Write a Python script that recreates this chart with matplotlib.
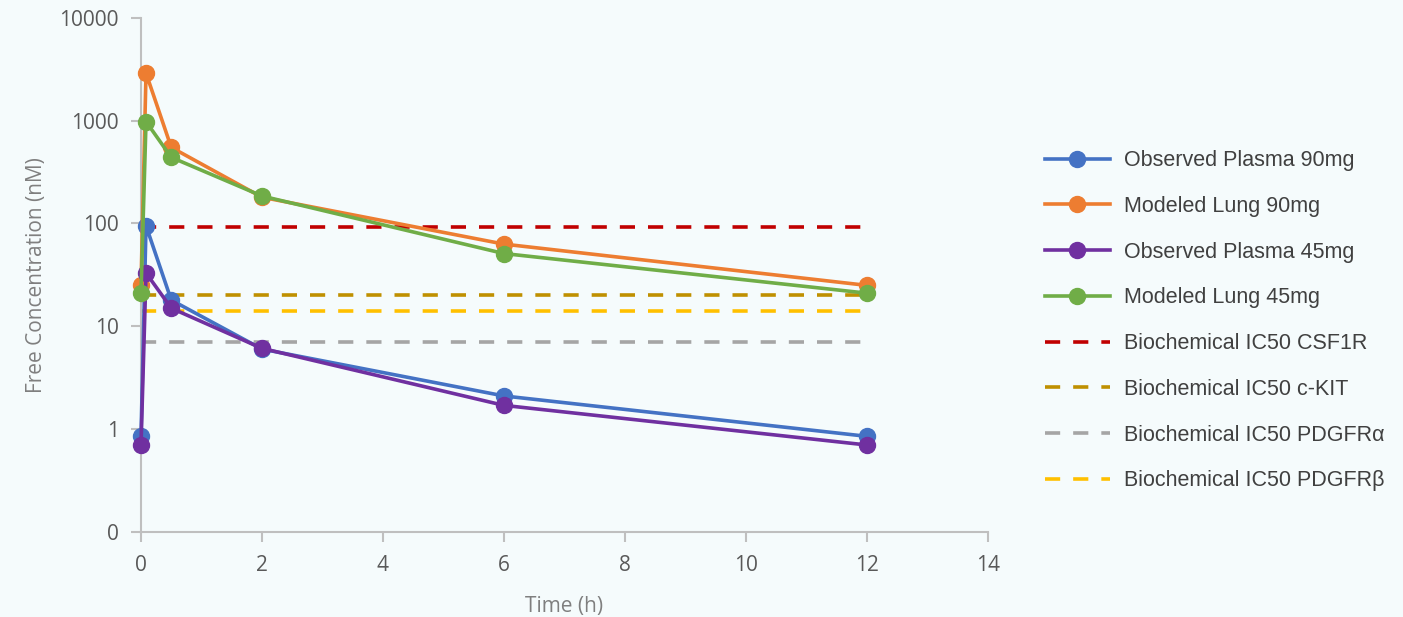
import matplotlib
matplotlib.use('Agg')
import matplotlib.pyplot as plt
from matplotlib.ticker import FixedLocator, FixedFormatter

# sampling times (h)
time_h = [0, 0.083, 0.5, 2, 6, 12]

plasma_90 = [0.85, 95, 18, 6.0, 2.1, 0.85]
lung_90 = [25, 2900, 550, 180, 63, 25]
plasma_45 = [0.7, 33, 15, 6.1, 1.7, 0.7]
lung_45 = [21, 980, 440, 185, 51, 21]

ic50_names = ['Biochemical IC50 CSF1R', 'Biochemical IC50 c-KIT',
              'Biochemical IC50 PDGFR\u03b1', 'Biochemical IC50 PDGFR\u03b2']
ic50_values = [92, 20, 7, 14]
ic50_span = [0, 12]

y_ticks = [0.1, 1, 10, 100, 1000, 10000]
y_tick_labels = ['0', '1', '10', '100', '1000', '10000']
x_ticks = [0, 2, 4, 6, 8, 10, 12, 14]

bg = '#F5FBFC'
plt.rcParams['font.family'] = ['Open Sans', 'DejaVu Sans']

fig = plt.figure(figsize=(14.03, 6.17), dpi=100, facecolor=bg)
ax = fig.add_axes([0.1005, 0.138, 0.6035, 0.833])
ax.set_facecolor(bg)

series = [
    ('Observed Plasma 90mg', plasma_90, '#4472C4'),
    ('Modeled Lung 90mg', lung_90, '#ED7D31'),
    ('Observed Plasma 45mg', plasma_45, '#7030A0'),
    ('Modeled Lung 45mg', lung_45, '#70AD47'),
]
for name, vals, col in series:
    ax.plot(time_h, vals, color=col, lw=2.6, marker='o', ms=11.5, label=name,
            clip_on=False, zorder=3)

ic50_colors = ['#C00000', '#BF9000', '#A5A5A5', '#FFC000']
for name, val, col in zip(ic50_names, ic50_values, ic50_colors):
    ax.plot(ic50_span, [val, val], color=col, lw=2.6, ls=(0, (4.2, 3.6)), label=name,
            zorder=2)

ax.set_yscale('log')
ax.set_ylim(0.1, 10000)
ax.set_xlim(0, 14)
ax.yaxis.set_major_locator(FixedLocator(y_ticks))
ax.yaxis.set_major_formatter(FixedFormatter(y_tick_labels))
ax.yaxis.set_minor_locator(FixedLocator([]))
ax.set_xticks(x_ticks)

for s in ['top', 'right']:
    ax.spines[s].set_visible(False)
for s in ['left', 'bottom']:
    ax.spines[s].set_color('#BFBFBF')
    ax.spines[s].set_linewidth(1.5)
ax.tick_params(colors='#BFBFBF', labelcolor='#595959', labelsize=15, width=1.5, length=7)
ax.tick_params(axis='y', pad=9)
ax.tick_params(axis='x', pad=10)

ax.set_xlabel('Time (h)', fontsize=15, color='#7F7F7F', labelpad=14)
ax.set_ylabel('Free Concentration (nM)', fontsize=15, color='#7F7F7F', labelpad=9)

leg = fig.legend(loc='center left', bbox_to_anchor=(0.731, 0.48), frameon=False,
                 labelspacing=1.15, handlelength=3.0, handletextpad=0.65,
                 prop={'family': ['Liberation Sans', 'DejaVu Sans'], 'size': 15.5})
for t in leg.get_texts():
    t.set_color('#404040')

fig.savefig('out.png', dpi=100, facecolor=bg)
